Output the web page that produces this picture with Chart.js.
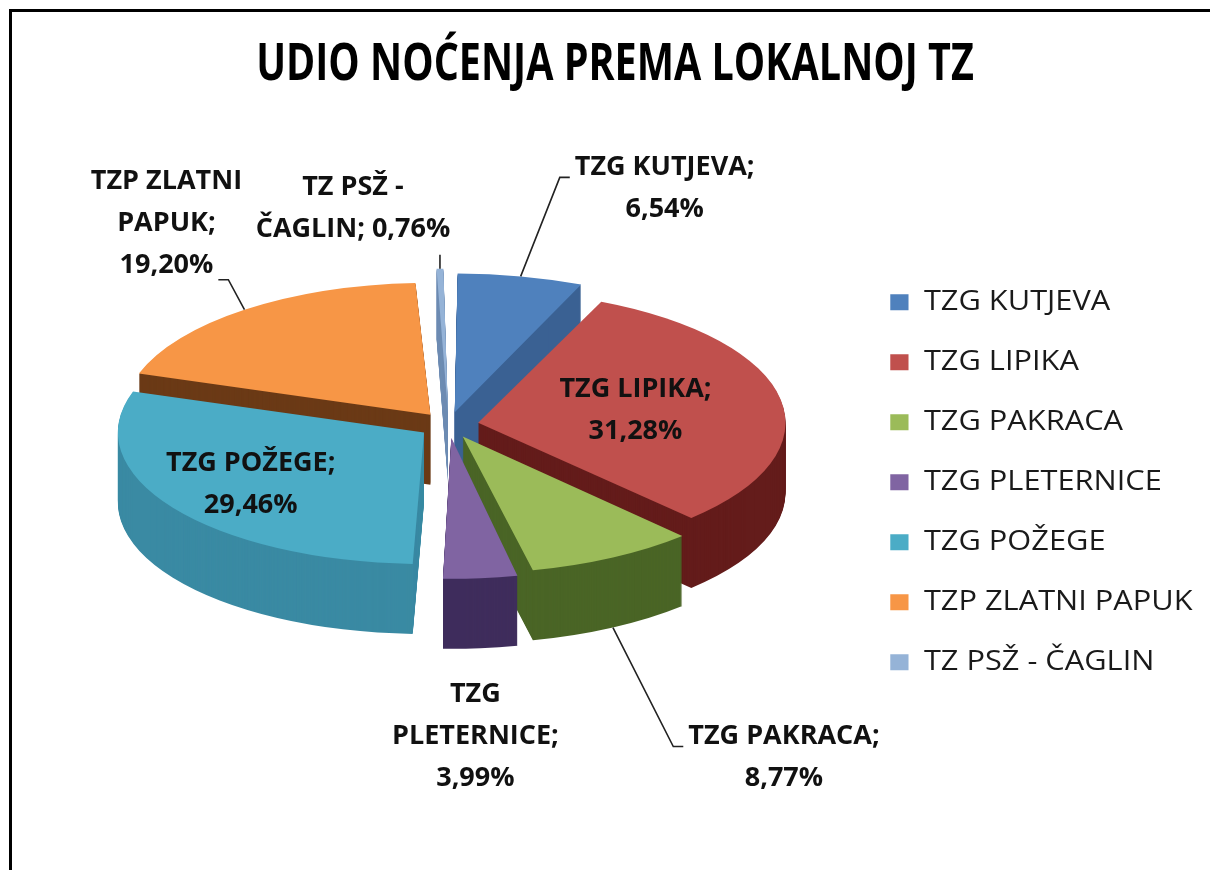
<!DOCTYPE html>
<html>
<head>
<meta charset="utf-8">
<script src="https://cdn.jsdelivr.net/npm/chart.js@4.4.1/dist/chart.umd.min.js"></script>
<style>
  html, body { margin:0; padding:0; background:#fff; }
  #wrap { position:relative; width:1210px; height:870px; overflow:hidden; }
  #c { position:absolute; left:0; top:0; }
  #frame { position:absolute; left:9px; top:9px; width:1210px; height:870px;
           border-left:3px solid #000; border-top:3px solid #000; pointer-events:none; }
</style>
</head>
<body>
<div id="wrap">
  <canvas id="c" width="1210" height="870"></canvas>
  <div id="frame"></div>
</div>
<script>
// ---- data ----
const categories = ['TZG KUTJEVA', 'TZG LIPIKA', 'TZG PAKRACA', 'TZG PLETERNICE', 'TZG POŽEGE', 'TZP ZLATNI PAPUK', 'TZ PSŽ - ČAGLIN'];
const shares = [6.54, 31.28, 8.77, 3.99, 29.46, 19.20, 0.76];
const chartTitle = 'UDIO NOĆENJA PREMA LOKALNOJ TZ';

// ---- styles ----
const topColors  = ['#4F81BD', '#C0504D', '#9BBB59', '#8064A2', '#4BACC6', '#F79646', '#95B3D7'];
const sideColors = ['#3A6193', '#641C1B', '#4A6526', '#3F2D5C', '#3A8AA3', '#6B3A16', '#6F8DB3'];
// label placement (style): inside at radius fraction, or outside with offset from slice edge
const labelLayout = [
  {mode:'out', dx:144, dy:-88, leader:'left',  wrap:220, side:false},
  {mode:'in',  r:0.52, wrap:200},
  {mode:'out', dx:171, dy:130, leader:'left',  wrap:220, side:true},
  {mode:'out', dx:-5,  dy:88,  leader:'none',  wrap:180, side:true},
  {mode:'in',  r:0.69, wrap:210},
  {mode:'out', dx:-78, dy:-86, leader:'right', wrap:170, side:false},
  {mode:'out', dx:-87, dy:-60, leader:'bottom',wrap:200, side:false}
];
const TILT = { ratio:0.43, centerY:425, depth:70 };
const LABEL_FONT = "bold 27px 'Open Sans', 'DejaVu Sans', sans-serif";
const LINE_H = 42;
const TITLE_STRETCH = { scaleX:0.76, centerX:615 };
const LEGEND_STRETCH = 1.14;

function project(arc, angle, rho, extra) {
  return { x: arc.x + Math.cos(angle) * rho,
           y: TILT.centerY + Math.sin(angle) * rho * TILT.ratio + (extra || 0) };
}

// horizontal stretch of title / legend text (font styling)
const stretchPlugin = {
  id: 'stretch',
  beforeDraw(chart) {
    const ctx = chart.ctx;
    const tb = chart.titleBlock;
    if (tb && !tb._stretched) {
      const orig = tb.draw.bind(tb);
      tb.draw = function(area) {
        const c0 = (tb.left + tb.right) / 2;
        ctx.save();
        ctx.translate(TITLE_STRETCH.centerX, 0);
        ctx.scale(TITLE_STRETCH.scaleX, 1);
        ctx.translate(-c0, 0);
        orig(area);
        ctx.restore();
      };
      tb._stretched = true;
    }
    const lg = chart.legend;
    if (lg && !lg._stretched) {
      const origL = lg.draw.bind(lg);
      lg.draw = function(area) {
        const px = lg.left + lg.options.labels.padding;
        ctx.save();
        ctx.translate(px, 0);
        ctx.scale(LEGEND_STRETCH, 1);
        ctx.translate(-px, 0);
        origL(area);
        ctx.restore();
      };
      lg._stretched = true;
    }
  }
};

const tiltPlugin = {
  id: 'tilt3d',
  beforeDatasetsDraw(chart) {
    const ctx = chart.ctx;
    const meta = chart.getDatasetMeta(0);
    const cy0 = meta.data[0].y;
    const apply = (extra) => {
      ctx.translate(0, TILT.centerY + extra);
      ctx.scale(1, TILT.ratio);
      ctx.translate(0, -cy0);
    };
    for (let d = TILT.depth; d >= 1; d--) {
      ctx.save();
      apply(d);
      meta.data.forEach((arc, i) => {
        const saved = arc.options;
        arc.options = Object.assign({}, saved, { backgroundColor: sideColors[i], borderWidth: 0 });
        arc.draw(ctx);
        arc.options = saved;
      });
      ctx.restore();
    }
    ctx.save();
    apply(0);
  },
  afterDatasetsDraw(chart) {
    chart.ctx.restore();
  }
};

function wrapText(ctx, text, maxW) {
  const words = text.split(' ');
  const lines = [];
  let cur = '';
  words.forEach(w => {
    const t = cur ? cur + ' ' + w : w;
    if (cur && ctx.measureText(t).width > maxW) { lines.push(cur); cur = w; }
    else cur = t;
  });
  if (cur) lines.push(cur);
  return lines;
}

const labelPlugin = {
  id: 'sliceLabels',
  afterDatasetsDraw(chart) {
    const ctx = chart.ctx;
    const meta = chart.getDatasetMeta(0);
    const ds = chart.data.datasets[0];
    ctx.save();
    ctx.font = LABEL_FONT;
    ctx.textAlign = 'center';
    ctx.textBaseline = 'middle';
    meta.data.forEach((arc, i) => {
      const lay = labelLayout[i];
      const val = ds.data[i].toFixed(2).replace('.', ',') + '%';
      const text = chart.data.labels[i] + '; ' + val;
      const lines = wrapText(ctx, text, lay.wrap);
      const mid = (arc.startAngle + arc.endAngle) / 2;
      const off = (arc.options.offset || 0) / 4;
      const circ = arc.endAngle - arc.startAngle;
      const rOut = arc.outerRadius + off * (1 - Math.sin(Math.min(Math.PI, circ)));
      let cx, cy, anchor = null;
      if (lay.mode === 'in') {
        const p = project(arc, mid, off + rOut * lay.r, 0);
        cx = p.x; cy = p.y;
      } else {
        anchor = project(arc, mid, off + rOut, lay.side ? TILT.depth : 0);
        cx = anchor.x + lay.dx; cy = anchor.y + lay.dy;
      }
      const n = lines.length;
      const y0 = cy - (n - 1) * LINE_H / 2;
      ctx.fillStyle = '#111';
      lines.forEach((l, k) => ctx.fillText(l, cx, y0 + k * LINE_H));
      if (anchor && lay.leader !== 'none') {
        ctx.strokeStyle = '#222';
        ctx.lineWidth = 1.6;
        ctx.beginPath();
        if (lay.leader === 'left') {
          const w = ctx.measureText(lines[0]).width;
          const e = { x: cx - w / 2 - 5, y: y0 + 10 };
          ctx.moveTo(anchor.x, anchor.y);
          ctx.lineTo(e.x - 10, e.y);
          ctx.lineTo(e.x, e.y);
        } else if (lay.leader === 'right') {
          const w = ctx.measureText(lines[n - 1]).width;
          const e = { x: cx + w / 2 + 5, y: y0 + (n - 1) * LINE_H + 14 };
          ctx.moveTo(anchor.x, anchor.y);
          ctx.lineTo(e.x + 10, e.y);
          ctx.lineTo(e.x, e.y);
        } else if (lay.leader === 'bottom') {
          ctx.moveTo(anchor.x, anchor.y);
          ctx.lineTo(anchor.x, y0 + (n - 1) * LINE_H + 25);
        }
        ctx.stroke();
      }
    });
    ctx.restore();
  }
};

new Chart(document.getElementById('c'), {
  type: 'pie',
  data: {
    labels: categories,
    datasets: [{
      data: shares,
      backgroundColor: topColors,
      borderWidth: 0,
      offset: 120,
      radius: 305,
      clip: false
    }]
  },
  options: {
    responsive: false,
    animation: false,
    events: [],
    layout: { padding: { left: 40, right: 44.5, top: 0, bottom: 9 } },
    plugins: {
      title: {
        display: true,
        text: chartTitle,
        color: '#000',
        font: { family: "'Open Sans', sans-serif", size: 52, weight: 'bold' },
        padding: { top: 34, bottom: 7 }
      },
      legend: {
        position: 'right',
        align: 'center',
        fullSize: false,
        labels: {
          color: '#1a1a1a',
          boxWidth: 16,
          boxHeight: 16,
          padding: 33,
          font: { family: "'Open Sans', sans-serif", size: 27 }
        }
      },
      tooltip: { enabled: false }
    }
  },
  plugins: [stretchPlugin, tiltPlugin, labelPlugin]
});
</script>
</body>
</html>
